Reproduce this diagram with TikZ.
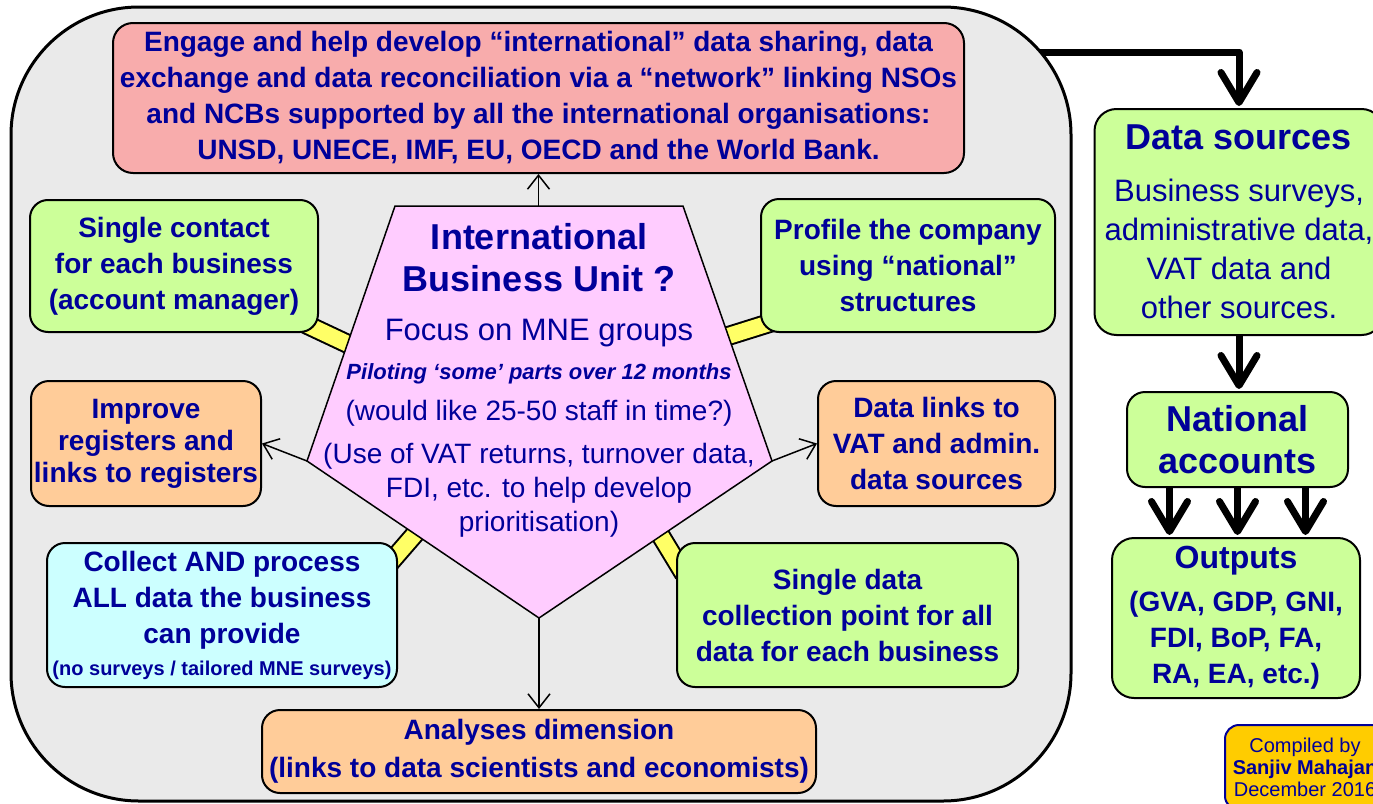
\documentclass[tikz,border=0pt]{standalone}
\usepackage{fontspec}
\setmainfont{Liberation Sans}
\usetikzlibrary{arrows.meta,backgrounds}

\definecolor{navytext}{RGB}{0,0,153}
\definecolor{pinkfill}{RGB}{248,172,172}
\definecolor{greenfill}{RGB}{204,255,153}
\definecolor{orangefill}{RGB}{255,204,153}
\definecolor{cyanfill}{RGB}{204,255,255}
\definecolor{pentafill}{RGB}{255,204,255}
\definecolor{framefill}{RGB}{234,234,234}
\definecolor{barfill}{RGB}{255,255,102}
\definecolor{goldfill}{RGB}{255,204,0}

\begin{document}
\begin{tikzpicture}[x=1pt,y=-1pt]
  \tikzstyle{panel}=[draw=black,line width=2pt,rounded corners=18pt,inner sep=0pt,align=center,text=navytext,font=\bfseries\fontsize{28}{36}\selectfont]
  \tikzstyle{green panel}=[panel,fill=greenfill]
  \tikzstyle{orange panel}=[panel,fill=orangefill]
  \tikzstyle{thin link}=[-{Straight Barb[length=14pt,width=22pt]},line width=1.5pt]
  \tikzstyle{fat link}=[-{Straight Barb[length=30pt,width=36pt,round]},line width=7pt,line join=round,shorten >=2pt]
  \tikzstyle{yellow bar}=[line width=2pt,double=barfill,double distance=16pt]

  \useasboundingbox (0,0) rectangle (1373,803);
  \clip (0,0) rectangle (1373,803);

  % boxes round the unit
  \node[panel,fill=pinkfill,minimum width=851pt,minimum height=150pt,rounded corners=20pt] (engage) at (538.5,98)
    {Engage and help develop “international” data sharing, data\\exchange and data reconciliation via a “network” linking NSOs\\and NCBs supported by all the international organisations:\\UNSD, UNECE, IMF, EU, OECD and the World Bank.};
  \node[green panel,minimum width=288pt,minimum height=132pt] (contact) at (174,266) {Single contact\\for each business\\(account manager)};
  \node[green panel,minimum width=294pt,minimum height=133pt] (profile) at (908,265.5) {Profile the company\\using “national”\\structures};
  \node[orange panel,minimum width=230pt,minimum height=125pt,font=\bfseries\fontsize{28}{32}\selectfont] (improve) at (146,443.5) {Improve\\registers and\\links to registers};
  \node[orange panel,minimum width=237pt,minimum height=125pt] (links) at (936.5,443.5) {Data links to\\VAT and admin.\\data sources};
  \node[panel,fill=cyanfill,minimum width=350pt,minimum height=144pt] (collect) at (222,615)
    {Collect AND process\\ALL data the business\\can provide\\[-4pt]{\fontsize{20}{22}\selectfont (no surveys / tailored MNE surveys)}};
  \node[green panel,minimum width=341pt,minimum height=144pt] (onepoint) at (847.5,615) {Single data\\collection point for all\\data for each business};
  \node[orange panel,minimum width=554pt,minimum height=83pt,font=\bfseries\fontsize{28}{38}\selectfont] (analyses) at (539,751.5) {Analyses dimension\\(links to data scientists and economists)};

  % the unit itself
  \coordinate (pT1) at (395,206);
  \coordinate (pT2) at (683,206);
  \coordinate (pR) at (772,461);
  \coordinate (pB) at (539,618);
  \coordinate (pL) at (307,461);
  \draw[fill=pentafill,line width=1.5pt] (pT1) -- (pT2) -- (pR) -- (pB) -- (pL) -- cycle;
  \node[align=center,text=navytext,inner sep=0pt,font=\fontsize{28}{34}\selectfont] (ibu) at (539,380)
    {{\fontsize{36}{34}\selectfont\bfseries International}\\[8pt]
     {\fontsize{36}{34}\selectfont\bfseries Business Unit ?}\\[15pt]
     {\fontsize{31}{34}\selectfont Focus on MNE groups}\\[5pt]
     {\fontsize{22}{34}\selectfont\bfseries\itshape Piloting ‘some’ parts over 12 months}\\[7pt]
     (would like 25-50 staff in time?)\\[9pt]
     (Use of VAT returns, turnover data,\\
     FDI, etc. to help develop\\
     prioritisation)};

  \draw[thin link] (engage.south |- pT1) -- (engage.south);
  \draw[thin link] (pL) -- (improve.east);
  \draw[thin link] (pR) -- (links.west);
  \draw[thin link] (pB) -- (analyses.north);

  % right hand column
  \node[green panel,minimum width=289pt,minimum height=226pt,rounded corners=22pt,font=\fontsize{31}{39}\selectfont] (datasrc) at (1239,222)
    {{\fontsize{36}{39}\selectfont\bfseries Data sources}\\[13pt]Business surveys,\\administrative data,\\VAT data and\\other sources.};
  \node[green panel,minimum width=221pt,minimum height=95pt,font=\bfseries\fontsize{36}{42}\selectfont] (national) at (1237.5,439.5) {National\\accounts};
  \node[green panel,minimum width=248pt,minimum height=160pt,rounded corners=22pt] (outputs) at (1236,618)
    {{\fontsize{32}{36}\selectfont Outputs}\\[7pt](GVA, GDP, GNI,\\FDI, BoP, FA,\\RA, EA, etc.)};
  \node[panel,fill=goldfill,draw=navytext,rounded corners=14pt,minimum width=160pt,minimum height=85pt,font=\fontsize{20}{22}\selectfont] (credit) at (1305,767.5)
    {Compiled by\\{\bfseries Sanjiv Mahajan}\\December 2016};

  \draw[fat link] (datasrc.south) -- (datasrc.south |- national.north);
  \foreach \dx in {-68,0,68}
    \draw[fat link] ([xshift=\dx pt]national.south) -- ([xshift=\dx pt]national.south |- outputs.north);

  \begin{scope}[on background layer]
    \coordinate (hubout) at (1030,52);
    \draw[fat link] (hubout) -| (datasrc.north);
    \node[draw=black,line width=3pt,fill=framefill,rounded corners=128pt,minimum width=1060pt,minimum height=794pt] (hub) at (541,404) {};
    \draw[yellow bar] (contact.south east) ++(-20,-12) -- ++(68,32);
    \draw[yellow bar] (profile.south west) ++(16,-12) -- ++(-67,21);
    \draw[yellow bar] (collect.north east) ++(-9,22) -- ++(39,-45);
    \draw[yellow bar] (onepoint.north west) ++(8,32) -- ++(-34,-56);
  \end{scope}
\end{tikzpicture}
\end{document}
